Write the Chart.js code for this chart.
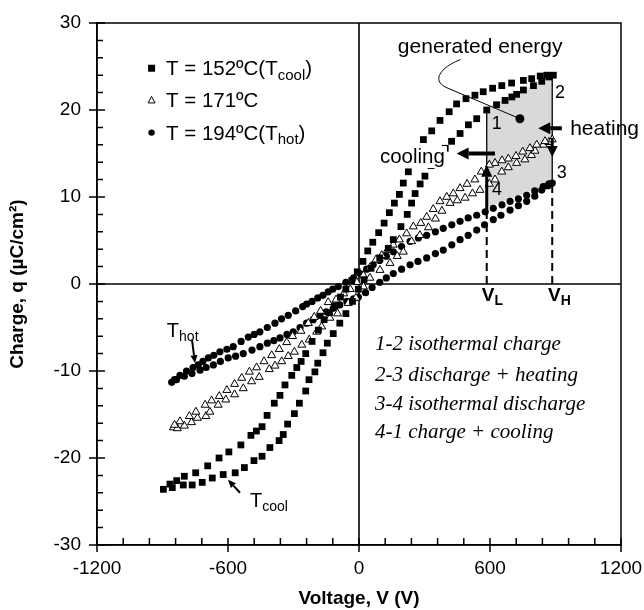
<!DOCTYPE html>
<html>
<head>
<meta charset="utf-8">
<script src="https://cdn.jsdelivr.net/npm/chart.js@4.4.0/dist/chart.umd.min.js"></script>
<style>
  body { margin: 0; background: #fff; }
</style>
</head>
<body>
<canvas id="canvas" width="644" height="610"></canvas>
<script>
// axis ticks
var xTicks = [-1200, -600, 0, 600, 1200];
var yTicks = [-30, -20, -10, 0, 10, 20, 30];

// T = 152 C (squares), branch with rising voltage
var coolUpV = [-896, -855, -805, -764, -718, -672, -622, -567, -525, -481, -444, -408, -366, -347, -327, -296, -273, -244, -229, -202, -189, -165, -145, -118, -88, -60, -30, -3, 23, 55, 95, 134, 157, 192, 221, 241, 257, 280, 302, 330, 360, 395, 424, 463, 501, 539, 585, 630, 669, 700, 722, 753, 799, 837, 870];
var coolUpQ = [-23.6, -23.4, -23.1, -23.1, -22.8, -22.3, -21.9, -21.7, -21.1, -20.3, -19.8, -18.8, -18.0, -17.3, -16.1, -14.9, -13.7, -12.3, -11.0, -10.1, -9.1, -7.9, -6.8, -5.7, -4.5, -3.4, -2.0, -0.6, 0.5, 1.8, 3.0, 4.1, 5.1, 6.6, 8.0, 9.3, 10.4, 11.5, 12.4, 13.6, 14.8, 15.6, 16.4, 17.3, 18.3, 19.0, 20.0, 20.6, 21.1, 21.5, 21.8, 22.3, 22.8, 23.3, 23.8];
// falling voltage
var coolDownV = [890, 860, 830, 791, 753, 699, 654, 612, 569, 531, 490, 447, 413, 371, 333, 295, 270, 248, 226, 203, 185, 162, 139, 115, 90, 63, 40, 18, -8, -33, -60, -85, -110, -135, -160, -186, -215, -244, -265, -285, -308, -339, -362, -388, -421, -444, -470, -495, -541, -596, -641, -693, -748, -800, -835, -866];
var coolDownQ = [24.0, 24.0, 23.9, 23.6, 23.4, 23.1, 22.8, 22.5, 22.1, 21.7, 21.3, 20.7, 19.8, 18.8, 17.6, 16.6, 15.2, 14.0, 12.9, 11.6, 10.3, 9.3, 8.2, 7.0, 5.9, 4.8, 3.8, 2.6, 1.4, 0.4, -0.6, -1.5, -2.5, -3.3, -4.1, -5.3, -6.6, -8.0, -8.9, -9.6, -10.5, -11.6, -12.8, -13.7, -15.1, -16.4, -16.9, -17.4, -18.5, -19.3, -20.0, -20.9, -21.7, -22.1, -22.6, -23.0];

// T = 171 C (open triangles)
var midUpV = [-850, -832, -800, -767, -740, -701, -683, -645, -610, -570, -530, -492, -457, -411, -385, -354, -324, -296, -262, -228, -194, -171, -133, -98, -49, -14, 20, 50, 96, 142, 175, 203, 241, 279, 318, 350, 380, 417, 450, 486, 520, 554, 597, 623, 654, 684, 722, 760, 790, 806, 844, 870];
var midUpQ = [-16.5, -16.6, -16.3, -15.9, -15.4, -15.2, -14.7, -13.9, -13.3, -12.7, -12.0, -11.2, -10.7, -9.8, -9.4, -8.9, -8.3, -7.8, -7.0, -6.4, -5.5, -4.9, -3.9, -3.4, -2.2, -1.6, -0.3, 0.7, 1.6, 2.4, 3.2, 3.7, 4.9, 5.6, 6.5, 7.5, 8.4, 9.3, 9.6, 9.9, 10.4, 10.8, 11.5, 12.0, 12.9, 13.4, 13.9, 14.3, 14.8, 15.3, 16.0, 16.3];
var midDownV = [885, 852, 814, 783, 750, 719, 684, 655, 623, 597, 560, 531, 495, 463, 432, 402, 371, 340, 310, 283, 249, 218, 185, 157, 130, 104, 78, 50, 20, -10, -40, -70, -105, -141, -176, -205, -232, -266, -304, -331, -365, -400, -435, -469, -502, -537, -570, -605, -640, -675, -705, -747, -777, -820, -845];
var midDownQ = [16.6, 16.4, 16.0, 15.6, 15.2, 14.7, 14.4, 14.2, 13.9, 13.7, 12.9, 12.0, 11.5, 11.0, 10.4, 10.0, 9.5, 8.6, 7.7, 7.0, 6.6, 5.8, 5.1, 4.5, 3.9, 3.3, 2.8, 1.9, 1.0, 0.2, -0.6, -1.1, -1.8, -2.1, -3.1, -3.8, -4.5, -5.4, -6.0, -6.7, -7.5, -8.2, -8.9, -9.6, -10.1, -10.8, -11.5, -12.2, -12.9, -13.4, -13.9, -14.7, -15.2, -15.8, -16.2];

// T = 194 C (filled circles)
var hotUpV = [-858, -836, -800, -765, -728, -700, -667, -635, -599, -565, -530, -490, -454, -420, -390, -362, -330, -301, -270, -240, -210, -179, -150, -118, -88, -56, -25, -3, 30, 60, 95, 125, 157, 195, 234, 270, 310, 350, 386, 425, 463, 500, 539, 575, 615, 650, 692, 730, 768, 805, 837, 865, 885];
var hotUpQ = [-11.3, -11.0, -10.6, -10.3, -9.9, -9.6, -9.3, -8.9, -8.5, -8.3, -8.0, -7.6, -7.2, -6.8, -6.5, -6.2, -5.8, -5.5, -5.0, -4.5, -4.1, -3.6, -3.2, -2.8, -2.4, -2.0, -1.7, -1.5, -1.0, -0.4, 0.2, 0.7, 1.2, 1.7, 2.2, 2.6, 3.0, 3.5, 3.9, 4.5, 5.1, 5.6, 6.2, 6.8, 7.4, 7.9, 8.5, 9.0, 9.5, 10.1, 10.8, 11.3, 11.6];
var hotDownV = [870, 844, 805, 768, 730, 692, 655, 615, 578, 539, 500, 463, 425, 386, 350, 310, 272, 234, 195, 157, 125, 95, 65, 35, 5, -25, -60, -95, -120, -141, -165, -189, -215, -240, -258, -290, -324, -355, -385, -420, -454, -480, -507, -540, -576, -605, -637, -665, -690, -715, -736, -760, -790, -820, -845];
var hotDownQ = [11.5, 11.2, 10.7, 10.2, 9.8, 9.5, 9.1, 8.7, 8.3, 7.9, 7.6, 7.2, 6.8, 6.4, 6.0, 5.6, 5.3, 4.9, 4.3, 3.7, 3.2, 2.7, 2.2, 1.7, 1.2, 0.7, 0.2, -0.3, -0.6, -0.9, -1.3, -1.6, -2.0, -2.3, -2.6, -3.1, -3.6, -4.0, -4.5, -5.0, -5.5, -5.8, -6.1, -6.6, -7.2, -7.5, -7.8, -8.2, -8.5, -8.9, -9.3, -9.6, -10.0, -10.5, -11.0];

// Olsen cycle corners 1-2-3-4
var vLow = 585;
var vHigh = 885;
var cycleV = [vLow, vHigh, vHigh, vLow, vLow];
var cycleQ = [20.3, 23.9, 11.6, 8.8, 20.3];

function toPoints(v, q) {
  return v.map(function (el, i) {
    return { x: el, y: q[i] };
  });
}

var FONT = "'Liberation Sans', Arial, sans-serif";

function arrow(ctx, x1, y1, x2, y2, w, hl, hw) {
  var ang = Math.atan2(y2 - y1, x2 - x1);
  var bx = x2 - hl * Math.cos(ang);
  var by = y2 - hl * Math.sin(ang);
  ctx.lineWidth = w;
  ctx.beginPath();
  ctx.moveTo(x1, y1);
  ctx.lineTo(bx, by);
  ctx.stroke();
  ctx.beginPath();
  ctx.moveTo(x2, y2);
  ctx.lineTo(bx + (hw / 2) * Math.sin(ang), by - (hw / 2) * Math.cos(ang));
  ctx.lineTo(bx - (hw / 2) * Math.sin(ang), by + (hw / 2) * Math.cos(ang));
  ctx.closePath();
  ctx.fill();
}

// text with optional subscript pieces: [[text, isSub], ...]
function subText(ctx, parts, x, y, size, weight) {
  var cx = x;
  parts.forEach(function (p) {
    var s = p[1] ? Math.round(size * 0.72) : size;
    ctx.font = weight + " " + s + "px " + FONT;
    ctx.fillText(p[0], cx, p[1] ? y + size * 0.22 : y);
    cx += ctx.measureText(p[0]).width;
  });
}

var annotate = {
  id: "annotate",
  beforeDatasetsDraw: function (chart) {
    var ctx = chart.ctx, a = chart.chartArea;
    var xs = chart.scales.x, ys = chart.scales.y;
    ctx.save();
    ctx.strokeStyle = "#000";
    ctx.lineWidth = 1.6;
    ctx.beginPath();
    ctx.moveTo(xs.getPixelForValue(0), a.top);
    ctx.lineTo(xs.getPixelForValue(0), a.bottom);
    ctx.moveTo(a.left, ys.getPixelForValue(0));
    ctx.lineTo(a.right, ys.getPixelForValue(0));
    ctx.stroke();
    ctx.restore();
  },
  afterDatasetsDraw: function (chart) {
    var ctx = chart.ctx, a = chart.chartArea;
    var xs = chart.scales.x, ys = chart.scales.y;
    var px = function (v) { return xs.getPixelForValue(v); };
    var py = function (q) { return ys.getPixelForValue(q); };
    ctx.save();
    ctx.fillStyle = "#000";
    ctx.strokeStyle = "#000";

    // frame and ticks
    ctx.lineWidth = 1.5;
    ctx.strokeRect(a.left, a.top, a.right - a.left, a.bottom - a.top);
    ctx.beginPath();
    for (var i = 0; i <= 20; i++) {
      var xv = px(-1200 + i * 120);
      if (i % 5 === 0) {
        ctx.moveTo(xv, a.bottom - 7);
        ctx.lineTo(xv, a.bottom + 7);
      } else {
        ctx.moveTo(xv, a.bottom);
        ctx.lineTo(xv, a.bottom - 7);
      }
    }
    for (var j = 0; j <= 30; j++) {
      var yv = py(-30 + j * 2);
      if (j % 5 === 0) {
        ctx.moveTo(a.left - 8, yv);
        ctx.lineTo(a.left + 8, yv);
      } else {
        ctx.moveTo(a.left, yv);
        ctx.lineTo(a.left + 6, yv);
      }
    }
    ctx.stroke();

    // "cooling" label hides a few markers
    ctx.font = "20.5px " + FONT;
    ctx.textBaseline = "alphabetic";
    var cw = ctx.measureText("cooling").width;
    ctx.fillStyle = "#fff";
    ctx.fillRect(px(96) - 2, py(13.9) - 17, cw + 4, 22);
    ctx.fillStyle = "#000";
    ctx.fillText("cooling", px(96), py(13.9));
    ctx.font = "21px " + FONT;
    ctx.fillText("heating", px(967), py(17.1));

    // process arrows
    ctx.lineCap = "butt";
    arrow(ctx, px(929), py(17.9), px(821), py(17.9), 4, 12, 12);
    arrow(ctx, px(623), py(15.0), px(447), py(15.0), 4, 12, 12);
    arrow(ctx, px(vLow), py(8.5), px(vLow), py(13.7), 3, 12, 11);
    arrow(ctx, px(vHigh), py(16.8), px(vHigh), py(14.6), 3, 11, 11);

    // corner numbers
    ctx.font = "18px " + FONT;
    ctx.textAlign = "center";
    ctx.textBaseline = "middle";
    ctx.fillText("1", px(631), py(18.4));
    ctx.fillText("2", px(921), py(22.0));
    ctx.fillText("3", px(929), py(12.8));
    ctx.fillText("4", px(632), py(10.8));

    // generated energy
    ctx.textBaseline = "alphabetic";
    ctx.font = "21px " + FONT;
    ctx.fillText("generated energy", px(555), py(26.6));
    ctx.lineWidth = 1;
    ctx.beginPath();
    ctx.moveTo(px(465), py(25.8));
    ctx.bezierCurveTo(px(372), py(24.9), px(326), py(23.3), px(408), py(22.5));
    ctx.lineTo(px(737), py(19.0));
    ctx.stroke();
    ctx.beginPath();
    ctx.arc(px(737), py(19.0), 4.5, 0, Math.PI * 2);
    ctx.fill();

    // V_L and V_H
    ctx.textAlign = "left";
    subText(ctx, [["V", false], ["L", true]], px(562), py(-1.9), 19, "bold");
    subText(ctx, [["V", false], ["H", true]], px(866), py(-1.9), 19, "bold");

    // T_hot and T_cool
    subText(ctx, [["T", false], ["hot", true]], px(-880), py(-6.1), 20, "normal");
    arrow(ctx, px(-765), py(-6.4), px(-751), py(-9.1), 2, 8, 7);
    subText(ctx, [["T", false], ["cool", true]], px(-499), py(-25.6), 20, "normal");
    arrow(ctx, px(-545), py(-24.0), px(-600), py(-22.5), 2, 8, 7);

    // legend
    var rows = [
      { q: 24.8, parts: [["T = 152\u00baC(T", false], ["cool", true], [")", false]] },
      { q: 21.1, parts: [["T = 171\u00baC", false]] },
      { q: 17.4, parts: [["T = 194\u00baC(T", false], ["hot", true], [")", false]] }
    ];
    var mx = px(-950);
    ctx.fillRect(mx - 3.5, py(24.8) - 3.5, 7, 7);
    ctx.lineWidth = 1;
    ctx.beginPath();
    ctx.moveTo(mx, py(21.1) - 4);
    ctx.lineTo(mx + 3.5, py(21.1) + 2.5);
    ctx.lineTo(mx - 3.5, py(21.1) + 2.5);
    ctx.closePath();
    ctx.stroke();
    ctx.beginPath();
    ctx.arc(mx, py(17.4), 3.2, 0, Math.PI * 2);
    ctx.fill();
    rows.forEach(function (r) {
      subText(ctx, r.parts, px(-884), py(r.q) + 7, 20.5, "normal");
    });

    // cycle description
    ctx.font = "italic 21px 'Liberation Serif', 'Times New Roman', serif";
    ctx.textBaseline = "middle";
    ctx.fillText("1-2 isothermal charge", px(73), py(-7.0));
    ctx.fillText("2-3 discharge + heating", px(73), py(-10.5));
    ctx.fillText("3-4 isothermal discharge", px(73), py(-13.9));
    ctx.fillText("4-1 charge + cooling", px(73), py(-17.1));
    ctx.restore();
  }
};

var ctx = document.getElementById("canvas").getContext("2d");

var myChart = new Chart(ctx, {
  type: "scatter",
  data: {
    datasets: [
      {
        label: "T = 152ºC",
        data: toPoints(coolUpV.concat(coolDownV), coolUpQ.concat(coolDownQ)),
        pointStyle: "rect",
        pointRadius: 4.8,
        backgroundColor: "#000",
        borderWidth: 0,
        order: 1,
      },
      {
        label: "T = 171ºC",
        data: toPoints(midUpV.concat(midDownV), midUpQ.concat(midDownQ)),
        pointStyle: "triangle",
        pointRadius: 4.6,
        backgroundColor: "#fff",
        borderColor: "#000",
        borderWidth: 1,
        order: 2,
      },
      {
        label: "T = 194ºC",
        data: toPoints(hotUpV.concat(hotDownV), hotUpQ.concat(hotDownQ)),
        pointStyle: "circle",
        pointRadius: 3.6,
        backgroundColor: "#000",
        borderWidth: 0,
        order: 3,
      },
      {
        type: "line",
        label: "cycle",
        data: toPoints(cycleV, cycleQ),
        showLine: true,
        fill: "shape",
        backgroundColor: "#d9d9d9",
        borderWidth: 0,
        pointRadius: 0,
        order: 10,
      },
      {
        type: "line",
        label: "VL",
        data: toPoints([vLow, vLow], [cycleQ[3], cycleQ[0]]),
        showLine: true,
        borderColor: "#000",
        borderWidth: 1.3,
        pointRadius: 0,
        order: 5,
      },
      {
        type: "line",
        label: "VH",
        data: toPoints([vHigh, vHigh], [cycleQ[2], cycleQ[1]]),
        showLine: true,
        borderColor: "#000",
        borderWidth: 1.3,
        pointRadius: 0,
        order: 5,
      },
      {
        type: "line",
        label: "VL dash",
        data: toPoints([vLow, vLow], [0, cycleQ[3]]),
        showLine: true,
        borderColor: "#000",
        borderWidth: 2,
        borderDash: [8, 5],
        pointRadius: 0,
        order: 5,
      },
      {
        type: "line",
        label: "VH dash",
        data: toPoints([vHigh, vHigh], [0, cycleQ[2]]),
        showLine: true,
        borderColor: "#000",
        borderWidth: 2,
        borderDash: [8, 5],
        pointRadius: 0,
        order: 5,
      },
    ],
  },
  options: {
    responsive: false,
    animation: false,
    layout: { padding: { top: 23, right: 23, left: 0, bottom: 0 } },
    plugins: {
      legend: { display: false },
      tooltip: { enabled: false },
    },
    scales: {
      x: {
        type: "linear",
        min: -1200,
        max: 1200,
        afterBuildTicks: function (scale) {
          scale.ticks = xTicks.map(function (v) { return { value: v }; });
        },
        afterFit: function (scale) {
          scale.height = 65;
          scale.paddingLeft = 0;
          scale.paddingRight = 0;
        },
        ticks: {
          color: "#000",
          font: { size: 19, family: FONT },
          padding: 12,
          maxRotation: 0,
          callback: function (value) { return String(value); },
        },
        grid: { display: false, drawTicks: false },
        border: { display: true, color: "#000", width: 1.5 },
        title: {
          display: true,
          text: "Voltage, V (V)",
          color: "#000",
          font: { size: 19, weight: "bold", family: FONT },
          padding: { top: 0, bottom: 0 },
        },
      },
      y: {
        type: "linear",
        min: -30,
        max: 30,
        afterBuildTicks: function (scale) {
          scale.ticks = yTicks.map(function (v) { return { value: v }; });
        },
        afterFit: function (scale) {
          scale.width = 97;
          scale.paddingTop = 0;
          scale.paddingBottom = 0;
        },
        ticks: {
          color: "#000",
          font: { size: 19, family: FONT },
          padding: 16,
          callback: function (value) { return String(value); },
        },
        grid: { display: false, drawTicks: false },
        border: { display: true, color: "#000", width: 1.5 },
        title: {
          display: true,
          text: "Charge, q (\u00b5C/cm\u00b2)",
          color: "#000",
          font: { size: 19, weight: "bold", family: FONT },
          padding: { top: 6, bottom: 0 },
        },
      },
    },
  },
  plugins: [annotate],
});
</script>
</body>
</html>
